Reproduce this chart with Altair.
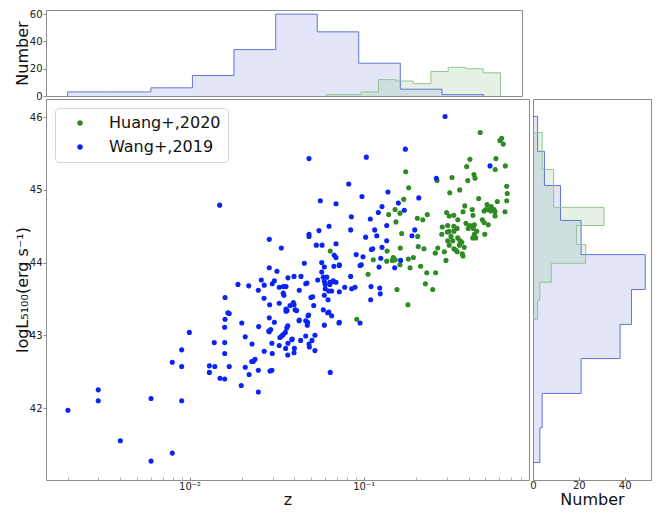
import altair as alt
import pandas as pd

# ---------------- data (log10 z, logL5100) ----------------
huang_logz = [-0.331, -0.208, -0.218, -0.199, -0.390, -0.241, -0.409, -0.245, -0.187, -0.759,
              -0.367, -0.361, -0.403, -0.493, -0.579, -0.742, -0.449, -0.506, -0.179, -0.176,
              -0.340, -0.770, -0.179, -0.233, -0.420, -0.292, -0.268, -0.820, -0.792, -0.857,
              -0.635, -0.524, -0.509, -0.483, -0.460, -0.430, -0.377, -0.373, -0.309, -0.298,
              -0.285, -0.271, -0.252, -0.246, -0.246, -0.189, -0.692, -0.661, -0.815, -0.518,
              -0.483, -0.464, -0.413, -0.390, -0.365, -0.371, -0.400, -0.319, -0.309, -0.285,
              -0.549, -0.552, -0.520, -0.509, -0.482, -0.499, -0.351, -0.365, -0.374, -0.357,
              -0.305, -0.782, -0.690, -0.518, -0.489, -0.460, -0.447, -0.437, -0.451, -0.423,
              -0.509, -0.482, -0.575, -0.589, -0.687, -0.654, -0.790, -0.866, -0.537, -0.470,
              -0.463, -0.434, -0.430, -0.528, -0.715, -0.744, -0.830, -0.836, -0.868, -0.819,
              -1.192, -0.945, -0.734, -0.792, -0.673, -0.638, -0.587, -0.975, -0.646, -0.604,
              -0.809, -0.746, -1.040]
huang_logL = [45.79, 45.71, 45.68, 45.63, 45.42, 45.43, 45.32, 45.28, 45.33, 45.25,
              45.21, 45.16, 45.13, 45.17, 45.13, 45.03, 45.00, 44.96, 45.05, 44.95,
              44.88, 44.87, 44.85, 44.84, 44.78, 44.80, 44.77, 44.73, 44.68, 44.66,
              44.66, 44.69, 44.64, 44.65, 44.59, 44.70, 44.73, 44.65, 44.71, 44.73,
              44.73, 44.71, 44.73, 44.70, 44.64, 44.70, 44.61, 44.59, 44.56, 44.51,
              44.50, 44.47, 44.54, 44.51, 44.52, 44.47, 44.47, 44.59, 44.55, 44.52,
              44.49, 44.39, 44.42, 44.43, 44.43, 44.36, 44.43, 44.39, 44.34, 44.34,
              44.39, 44.40, 44.36, 44.30, 44.30, 44.34, 44.30, 44.28, 44.24, 44.21,
              44.24, 44.19, 44.20, 44.13, 44.22, 44.19, 44.20, 44.16, 44.15, 44.17,
              44.15, 44.12, 44.09, 44.03, 44.07, 44.05, 44.07, 44.03, 44.02, 44.04,
              44.16, 44.04, 43.93, 43.97, 43.95, 43.86, 43.86, 43.84, 43.71, 43.63,
              43.63, 43.42, 43.22]

wang_logz = [-0.533, -1.314, -0.985, -0.761, -0.275, -0.583, -1.086, -0.861, -1.010, -1.249,
             -1.159, -0.684, -0.895, -0.801, -0.916, -0.767, -0.962, -0.868, -0.937, -0.925,
             -0.707, -0.723, -0.989, -0.868, -0.948, -0.956, -0.895, -1.004, -0.788, -0.822,
             -0.902, -0.912, -1.014, -0.958, -0.908, -0.905, -0.960, -1.827,
             -2.099, -2.524, -2.524, -2.221, -2.698, -2.397, -2.099, -2.221,
             -1.071, -1.199, -1.257, -1.314, -1.314, -1.075, -1.542, -1.272, -1.239, -1.159,
             -1.473, -1.169, -1.159, -1.043, -1.341, -1.241, -1.542, -1.498, -1.226, -1.171,
             -1.140, -1.021, -1.241, -1.232, -1.212, -1.075, -1.360, -1.400, -1.435, -1.588,
             -1.513, -1.525, -1.264, -1.226, -1.194, -1.175, -1.159, -1.221, -1.194, -1.571,
             -1.722, -1.660, -1.326, -1.333, -1.485, -1.446, -1.221, -1.201, -1.184, -1.140,
             -1.109, -1.069, -1.050, -1.605, -1.370, -1.462, -1.458, -1.226, -1.303, -1.293,
             -1.796, -1.572, -1.205, -1.485, -1.423, -1.404, -1.540, -1.287, -1.446, -1.446,
             -1.394, -1.385, -1.232, -1.207, -1.184, -1.772, -1.316, -1.796, -1.542, -1.513,
             -1.371, -1.333, -1.322, -1.324, -1.700, -1.142, -1.226, -1.021, -1.603, -1.436,
             -1.442, -1.798, -1.534, -1.542, -2.001, -1.450, -1.462, -1.471, -1.481, -1.280,
             -1.333, -1.297, -1.362, -1.413, -1.680, -1.858, -1.798, -1.641, -1.527, -1.485,
             -1.435, -1.314, -1.312, -1.448, -1.398, -1.400, -1.280, -1.571, -1.525, -1.436,
             -1.798, -2.045, -1.624, -1.634, -1.643, -1.772, -1.886, -1.855, -1.886, -1.680,
             -1.605, -1.538, -1.527, -2.045, -1.658, -1.825, -1.798, -1.192, -1.703, -1.605,
             -2.045, -1.400, -1.462, -1.780, -1.545, -1.440, -1.320, -1.370, -1.410, -1.200,
             -1.140, -1.175, -1.140]
wang_logL = [46.01, 45.43, 45.45, 45.56, 45.33, 45.16, 45.08, 44.97, 44.91, 44.85,
             44.81, 44.89, 44.77, 44.82, 44.69, 44.72, 44.60, 44.51, 44.45, 44.37,
             44.45, 44.37, 44.35, 44.30, 44.19, 44.18, 44.21, 44.08, 44.03, 43.93,
             44.06, 43.94, 43.97, 43.67, 43.65, 43.57, 43.49, 44.79,
             42.63, 42.25, 42.10, 42.13, 41.97, 41.55, 41.38, 41.27,
             44.63, 44.50, 44.44, 44.39, 44.36, 44.45, 44.32, 44.24, 44.24, 44.26,
             44.20, 44.10, 44.07, 44.11, 43.99, 44.00, 43.93, 43.88, 43.94, 43.95,
             43.96, 43.96, 43.87, 43.80, 43.80, 43.81, 43.81, 43.81, 43.79, 43.76,
             43.75, 43.71, 43.76, 43.74, 43.73, 43.74, 43.73, 43.70, 43.70, 43.69,
             43.70, 43.68, 43.72, 43.71, 43.66, 43.67, 43.64, 43.61, 43.61, 43.60,
             43.66, 43.64, 43.66, 43.62, 43.62, 43.58, 43.55, 43.55, 43.52, 43.53,
             43.52, 43.51, 43.49, 43.44, 43.41, 43.45, 43.42, 43.41, 43.36, 43.33,
             43.35, 43.34, 43.35, 43.31, 43.27, 43.30, 43.28, 43.22, 43.24, 43.18,
             43.20, 43.20, 43.18, 43.14, 43.17, 43.17, 43.14, 43.17, 43.12, 43.13,
             43.10, 43.11, 43.08, 43.05, 43.04, 43.04, 43.01, 42.99, 42.97, 43.00,
             42.99, 42.93, 42.93, 42.94, 42.98, 42.90, 42.90, 42.88, 42.89, 42.86,
             42.89, 42.88, 42.84, 42.82, 42.82, 42.76, 42.79, 42.78, 42.75, 42.73,
             42.75, 42.80, 42.67, 42.64, 42.64, 42.57, 42.58, 42.57, 42.49, 42.56,
             42.52, 42.51, 42.52, 42.57, 42.46, 42.41, 42.40, 42.49, 42.31, 42.22,
             42.10, 43.42, 43.67, 43.31, 43.06, 43.34, 43.27, 43.21, 42.95, 43.32,
             43.18, 43.75, 43.97]

# histogram of log10 z (top panel): bin edges and counts
wang_zhist_edges = [-2.698, -2.456, -2.213, -1.971, -1.729, -1.486, -1.244, -1.002, -0.760, -0.517, -0.275]
wang_zhist_counts = [3, 3, 6, 15, 34, 60, 47, 24, 5, 1]
huang_zhist_edges = [-1.192, -1.090, -0.989, -0.887, -0.786, -0.684, -0.582, -0.481, -0.379, -0.278, -0.176]
huang_zhist_counts = [1, 1, 3, 12, 11, 9, 18, 21, 20, 17]

# histogram of logL5100 (right panel)
wang_Lhist_edges = [41.25, 41.73, 42.20, 42.68, 43.15, 43.63, 44.11, 44.58, 45.06, 45.53, 46.01]
wang_Lhist_counts = [3, 4, 21, 38, 43, 49, 21, 12, 5, 2]
huang_Lhist_edges = [43.22, 43.48, 43.73, 43.99, 44.25, 44.51, 44.76, 45.02, 45.28, 45.53, 45.79]
huang_Lhist_counts = [2, 3, 8, 23, 19, 31, 9, 9, 4, 4]

GROUPS = ["Huang+,2020", "Wang+,2019"]
GREEN = "#2f8a24"
BLUE = "#0a24f5"
FONT = "DejaVu Sans"

X_DOMAIN = [0.0015, 0.889]
Y_DOMAIN = [41.01, 46.25]

# ---------------- tables ----------------
rows = []
k = 0
for lz, L in zip(huang_logz, huang_logL):
    rows.append({"group": GROUPS[0], "z": 10 ** lz, "L": L, "idx": k}); k += 1
for lz, L in zip(wang_logz, wang_logL):
    rows.append({"group": GROUPS[1], "z": 10 ** lz, "L": L, "idx": k}); k += 1
scatter_df = pd.DataFrame(rows)


def step_fill(edges, counts):
    pts = [(edges[i], c) for i, c in enumerate(counts)]
    pts.append((edges[-1], counts[-1]))
    return pts


def outline(edges, counts):
    pts = [(edges[0], 0)]
    for i, c in enumerate(counts):
        pts.append((edges[i], c))
        pts.append((edges[i + 1], c))
    pts.append((edges[-1], 0))
    return pts


def top_fill_df(edges, counts):
    return pd.DataFrame([{"z": 10 ** e, "n": c} for e, c in step_fill(edges, counts)])


def top_line_df(edges, counts):
    return pd.DataFrame([{"z": 10 ** e, "n": c, "o": i} for i, (e, c) in enumerate(outline(edges, counts))])


def right_fill_df(edges, counts):
    return pd.DataFrame([{"L": e, "n": c} for e, c in step_fill(edges, counts)])


def right_line_df(edges, counts):
    return pd.DataFrame([{"L": e, "n": c, "o": i} for i, (e, c) in enumerate(outline(edges, counts))])


BLUE_FILL, BLUE_LINE = "#7b8de0", "#6175d8"
GREEN_FILL, GREEN_LINE = "#8fc48a", "#95c495"

xs_top = alt.Scale(type="log", domain=X_DOMAIN, nice=False)
ys_top = alt.Scale(domain=[0, 63], nice=False, zero=True)
y_axis_top = alt.Axis(values=[0, 20, 40, 60], tickSize=3, labelPadding=1,
                      minExtent=16, maxExtent=16, titlePadding=0, title="Number")


def top_layers():
    layers = []
    for edges, counts, fc in [(wang_zhist_edges, wang_zhist_counts, BLUE_FILL),
                              (huang_zhist_edges, huang_zhist_counts, GREEN_FILL)]:
        layers.append(alt.Chart(top_fill_df(edges, counts)).mark_area(
            interpolate="step-after", color=fc, opacity=0.22).encode(
            x=alt.X("z:Q", scale=xs_top, axis=None),
            y=alt.Y("n:Q", scale=ys_top, axis=y_axis_top)))
    for edges, counts, lc in [(wang_zhist_edges, wang_zhist_counts, BLUE_LINE),
                              (huang_zhist_edges, huang_zhist_counts, GREEN_LINE)]:
        layers.append(alt.Chart(top_line_df(edges, counts)).mark_line(
            color=lc, strokeWidth=1).encode(
            x=alt.X("z:Q", scale=xs_top, axis=None),
            y=alt.Y("n:Q", scale=ys_top, axis=y_axis_top),
            order="o:Q"))
    return layers


top = alt.layer(*top_layers()).properties(width=476, height=86)

MAJOR = "abs(log(datum.value)/LN10 - round(log(datum.value)/LN10)) < 0.001"
xticks = [a * 10 ** p for p in (-3, -2, -1) for a in range(1, 10)]
xticks = [t for t in xticks if X_DOMAIN[0] <= t <= X_DOMAIN[1]]

x_axis_main = alt.Axis(values=xticks,
                       labelExpr=f"{MAJOR} ? (datum.value < 0.05 ? '10⁻²' : '10⁻¹') : ''",
                       tickSize={"condition": {"test": MAJOR, "value": 4}, "value": 3},
                       tickColor={"condition": {"test": MAJOR, "value": "#8c8c8c"}, "value": "#b5b5b5"},
                       offset=-3, labelPadding=0, maxExtent=14, minExtent=14, titlePadding=0,
                       labelOverlap=False, labelFlush=False, title="z")
y_axis_main = alt.Axis(values=[42, 43, 44, 45, 46], tickSize=3, labelPadding=1,
                       minExtent=16, maxExtent=16, titlePadding=0,
                       title="logL₅₁₀₀(erg s⁻¹)")

main = alt.Chart(scatter_df).mark_circle(size=26, opacity=1).encode(
    x=alt.X("z:Q", scale=alt.Scale(type="log", domain=X_DOMAIN, nice=False), axis=x_axis_main),
    y=alt.Y("L:Q", scale=alt.Scale(domain=Y_DOMAIN, nice=False, zero=False), axis=y_axis_main),
    color=alt.Color("group:N", scale=alt.Scale(domain=GROUPS, range=[GREEN, BLUE]),
                    legend=alt.Legend(title=None, orient="top-left", offset=9,
                                      fillColor="white", strokeColor="#d6d6d6", cornerRadius=4,
                                      padding=7, labelFontSize=16, labelFont=FONT, labelColor="#111",
                                      symbolType="circle", symbolSize=30, symbolStrokeWidth=0,
                                      symbolOpacity=1, labelOffset=21, symbolOffset=10,
                                      rowPadding=8)),
    order=alt.Order("idx:Q"),
).properties(width=483, height=381)

xs_right = alt.Scale(domain=[0, 51.5], nice=False)
ys_right = alt.Scale(domain=Y_DOMAIN, nice=False, zero=False)
x_axis_right = alt.Axis(values=[0, 20, 40], tickSize=3, offset=-3, labelPadding=0, maxExtent=14,
                        minExtent=14, titlePadding=0, title="Number", labelFlush=False)


def right_layers():
    layers = []
    for edges, counts, fc in [(wang_Lhist_edges, wang_Lhist_counts, BLUE_FILL),
                              (huang_Lhist_edges, huang_Lhist_counts, GREEN_FILL)]:
        layers.append(alt.Chart(right_fill_df(edges, counts)).mark_area(
            interpolate="step-after", orient="horizontal", color=fc, opacity=0.22).encode(
            x=alt.X("n:Q", scale=xs_right, axis=x_axis_right),
            y=alt.Y("L:Q", scale=ys_right, axis=None)))
    for edges, counts, lc in [(wang_Lhist_edges, wang_Lhist_counts, BLUE_LINE),
                              (huang_Lhist_edges, huang_Lhist_counts, GREEN_LINE)]:
        layers.append(alt.Chart(right_line_df(edges, counts)).mark_line(
            color=lc, strokeWidth=1).encode(
            x=alt.X("n:Q", scale=xs_right, axis=x_axis_right),
            y=alt.Y("L:Q", scale=ys_right, axis=None),
            order="o:Q"))
    return layers


right = alt.layer(*right_layers()).properties(width=118, height=381)

bottom = alt.hconcat(main, right, spacing=4, bounds="flush").resolve_scale(
    color="independent").resolve_legend(color="independent")

chart = alt.vconcat(top, bottom, spacing=3, bounds="flush").resolve_scale(
    color="independent").resolve_legend(color="independent").properties(
    padding={"left": 5, "top": 0, "right": 0, "bottom": 0}
).configure_view(stroke="#8c8c8c", strokeWidth=1).configure_axis(
    domain=False, grid=False, tickColor="#8c8c8c", labelFont=FONT, titleFont=FONT,
    labelFontSize=10, titleFontSize=16, titleFontWeight="normal",
    labelColor="#222", titleColor="#111")

chart.save("out.html", embed_options={"renderer": "svg", "actions": False})
